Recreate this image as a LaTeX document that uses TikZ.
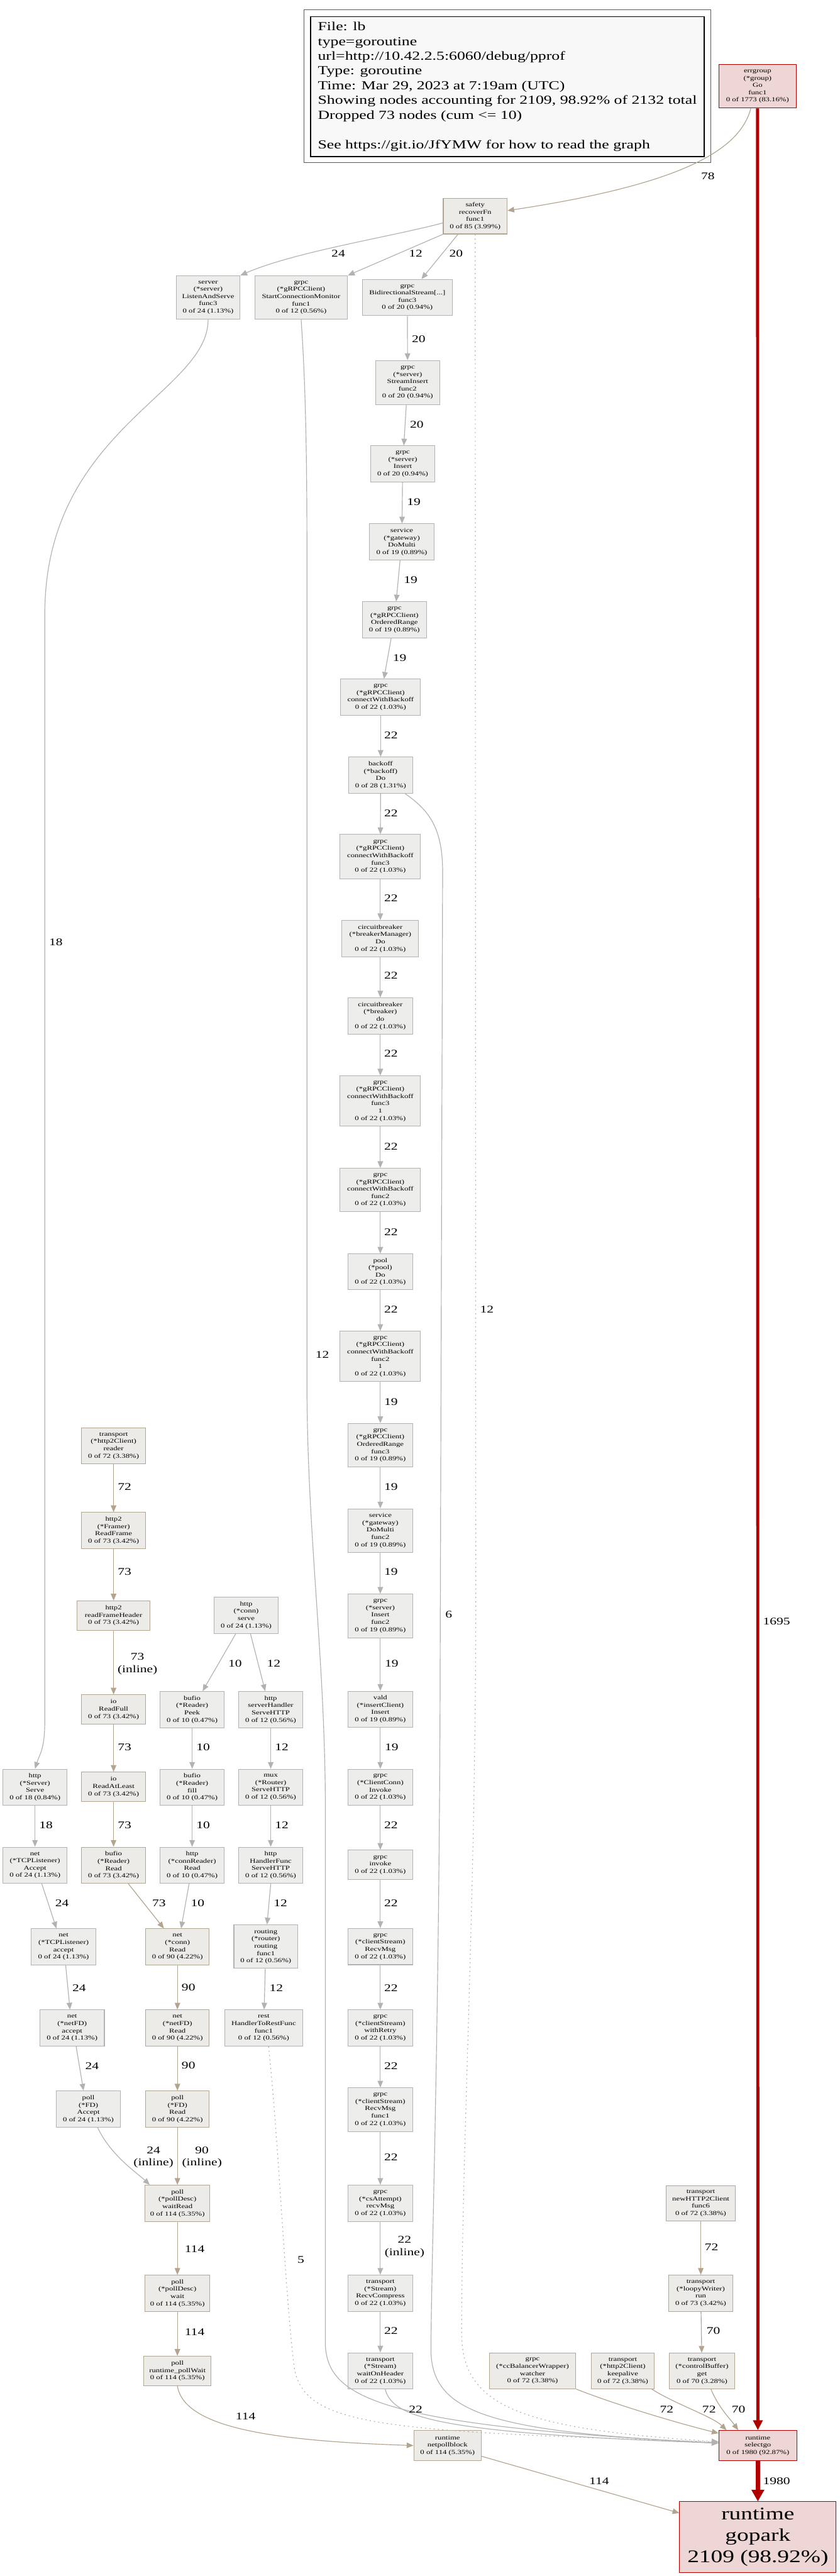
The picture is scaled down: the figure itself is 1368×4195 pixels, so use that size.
\documentclass[tikz,border=0pt]{standalone}
\usepackage{fontspec}
\newfontfamily\gvfont[FakeStretch=1.32]{Liberation Serif}
\usetikzlibrary{arrows.meta}
\newcommand{\gvnodefont}{\gvfont\fontsize{9.9}{11.9}\selectfont}
\newcommand{\gvlabfont}{\gvfont\fontsize{16.7}{20}\selectfont}
\newcommand{\gvlegfont}{\gvfont\fontsize{20}{24}\selectfont}
\newcommand{\gvbigfont}{\gvfont\fontsize{29}{35}\selectfont}
\definecolor{gfill}{HTML}{EDEDEC}
\definecolor{gdraw}{HTML}{B2B2B1}
\definecolor{tfill}{HTML}{EDEBE8}
\definecolor{tdraw}{HTML}{B2A793}
\definecolor{rfill}{HTML}{EDD6D5}
\definecolor{rdraw}{HTML}{B20000}
\definecolor{gedge}{HTML}{B2B2B1}
\definecolor{tedge}{HTML}{B2A48F}
\definecolor{legfill}{HTML}{F8F8F8}
\begin{document}
\begin{tikzpicture}[x=1pt,y=-1pt,
  box/.style={draw,line width=1.1pt,inner sep=0pt,align=center,font=\gvnodefont},
  gbox/.style={box,draw=gdraw,fill=gfill},
  tbox/.style={box,draw=tdraw,fill=tfill},
  rbox/.style={box,draw=rdraw,fill=rfill},
  sz/.style 2 args={minimum width=#1pt,minimum height=#2pt},
  ge/.style={draw=gedge,line width=1.2pt,-{Triangle[length=11pt,width=9pt]}},
  te/.style={ge,draw=tedge},
  gdot/.style={ge,dash pattern=on 2pt off 5pt},
  re/.style={draw=rdraw,line width=5pt,-{Triangle[length=16pt,width=15pt]}},
  retwo/.style={draw=rdraw,line width=6.5pt,-{Triangle[length=19pt,width=20pt]}},
  elab/.style={font=\gvlabfont,align=center,inner sep=0pt},
]
\fill[white] (0,0) rectangle (1368,4195);
\useasboundingbox (0,0) rectangle (1368,4195);

% legend
\node[draw=black!65,line width=1.5pt,fill=white,minimum width=663pt,minimum height=249pt,inner sep=0pt] (legendout) at (826.5,140.5) {};
\node[draw=black,fill=legfill,line width=1.2pt,minimum width=641pt,minimum height=228pt,inner sep=0pt,align=left,font=\gvlegfont] (legend) at (826.5,141)
{File: lb\\type=goroutine\\url=http://10.42.2.5:6060/debug/pprof\\Type: goroutine\\Time: Mar 29, 2023 at 7:19am (UTC)\\Showing nodes accounting for 2109, 98.92\% of 2132 total\\Dropped 73 nodes (cum <= 10)\\[24pt]See https://git.io/JfYMW for how to read the graph};

% top nodes
\node[rbox,sz={126}{71}] (errgroup) at (1234,140.5) {errgroup\\(*group)\\Go\\func1\\0 of 1773 (83.16\%)};
\node[tbox,sz={104}{58}] (safety) at (774,352) {safety\\recoverFn\\func1\\0 of 85 (3.99\%)};
\node[gbox,sz={104}{71}] (server) at (339,484.5) {server\\(*server)\\ListenAndServe\\func3\\0 of 24 (1.13\%)};
\node[gbox,sz={151}{71}] (scm) at (490.5,484.5) {grpc\\(*gRPCClient)\\StartConnectionMonitor\\func1\\0 of 12 (0.56\%)};
\node[gbox,sz={147}{59}] (bidi) at (663.5,484.5) {grpc\\BidirectionalStream[...]\\func3\\0 of 20 (0.94\%)};
% center column
\node[gbox,sz={104}{72}] (streamins) at (664,623) {grpc\\(*server)\\StreamInsert\\func2\\0 of 20 (0.94\%)};
\node[gbox,sz={104}{59}] (insert) at (656,755.5) {grpc\\(*server)\\Insert\\0 of 20 (0.94\%)};
\node[gbox,sz={105}{59}] (domulti) at (654.5,882.5) {service\\(*gateway)\\DoMulti\\0 of 19 (0.89\%)};
\node[gbox,sz={105}{59}] (ordrange) at (642.5,1009.5) {grpc\\(*gRPCClient)\\OrderedRange\\0 of 19 (0.89\%)};
\node[gbox,sz={130}{59}] (cwb) at (620,1135.5) {grpc\\(*gRPCClient)\\connectWithBackoff\\0 of 22 (1.03\%)};
\node[gbox,sz={104}{59}] (backoff) at (620,1262.5) {backoff\\(*backoff)\\Do\\0 of 28 (1.31\%)};
\node[gbox,sz={131}{72}] (cwbf3) at (619.5,1395) {grpc\\(*gRPCClient)\\connectWithBackoff\\func3\\0 of 22 (1.03\%)};
\node[gbox,sz={125}{59}] (cbmgr) at (619.5,1528.5) {circuitbreaker\\(*breakerManager)\\Do\\0 of 22 (1.03\%)};
\node[gbox,sz={105}{59}] (cbdo) at (619.5,1654.5) {circuitbreaker\\(*breaker)\\do\\0 of 22 (1.03\%)};
\node[gbox,sz={131}{82}] (cwbf31) at (619.5,1793) {grpc\\(*gRPCClient)\\connectWithBackoff\\func3\\1\\0 of 22 (1.03\%)};
\node[gbox,sz={131}{71}] (cwbf2) at (619.5,1938) {grpc\\(*gRPCClient)\\connectWithBackoff\\func2\\0 of 22 (1.03\%)};
\node[gbox,sz={105}{58}] (pool) at (619.5,2071) {pool\\(*pool)\\Do\\0 of 22 (1.03\%)};
\node[gbox,sz={131}{82}] (cwbf21) at (619.5,2209) {grpc\\(*gRPCClient)\\connectWithBackoff\\func2\\1\\0 of 22 (1.03\%)};
\node[gbox,sz={105}{71}] (ordrangef3) at (619.5,2353.5) {grpc\\(*gRPCClient)\\OrderedRange\\func3\\0 of 19 (0.89\%)};
\node[gbox,sz={105}{71}] (domultif2) at (619.5,2492.5) {service\\(*gateway)\\DoMulti\\func2\\0 of 19 (0.89\%)};
\node[gbox,sz={105}{71}] (insertf2) at (619.5,2631.5) {grpc\\(*server)\\Insert\\func2\\0 of 19 (0.89\%)};
\node[gbox,sz={105}{59}] (vald) at (619.5,2783.5) {vald\\(*insertClient)\\Insert\\0 of 19 (0.89\%)};
\node[gbox,sz={105}{59}] (invoke) at (619.5,2910.5) {grpc\\(*ClientConn)\\Invoke\\0 of 22 (1.03\%)};
\node[gbox,sz={105}{48}] (invk) at (619.5,3037) {grpc\\invoke\\0 of 22 (1.03\%)};
\node[gbox,sz={105}{59}] (recvmsg) at (619.5,3170) {grpc\\(*clientStream)\\RecvMsg\\0 of 22 (1.03\%)};
\node[gbox,sz={105}{59}] (withretry) at (619.5,3302.5) {grpc\\(*clientStream)\\withRetry\\0 of 22 (1.03\%)};
\node[gbox,sz={105}{71}] (recvmsgf1) at (619.5,3435.5) {grpc\\(*clientStream)\\RecvMsg\\func1\\0 of 22 (1.03\%)};
\node[gbox,sz={105}{59}] (csattempt) at (619.5,3588) {grpc\\(*csAttempt)\\recvMsg\\0 of 22 (1.03\%)};
\node[gbox,sz={105}{59}] (recvcomp) at (619.5,3734.5) {transport\\(*Stream)\\RecvCompress\\0 of 22 (1.03\%)};
\node[gbox,sz={105}{59}] (waitonh) at (619.5,3861) {transport\\(*Stream)\\waitOnHeader\\0 of 22 (1.03\%)};
% left
\node[tbox,sz={104}{59}] (h2reader) at (185,2354.5) {transport\\(*http2Client)\\reader\\0 of 72 (3.38\%)};
\node[tbox,sz={104}{59}] (readframe) at (185,2492.5) {http2\\(*Framer)\\ReadFrame\\0 of 73 (3.42\%)};
\node[tbox,sz={119}{48}] (rfh) at (185,2631) {http2\\readFrameHeader\\0 of 73 (3.42\%)};
\node[tbox,sz={104}{48}] (readfull) at (185,2784) {io\\ReadFull\\0 of 73 (3.42\%)};
\node[tbox,sz={104}{48}] (readatleast) at (185,2910) {io\\ReadAtLeast\\0 of 73 (3.42\%)};
\node[tbox,sz={104}{59}] (bufread) at (185,3037.5) {bufio\\(*Reader)\\Read\\0 of 73 (3.42\%)};
\node[gbox,sz={104}{59}] (httpconn) at (401,2630.5) {http\\(*conn)\\serve\\0 of 24 (1.13\%)};
\node[gbox,sz={104}{59}] (peek) at (313,2784) {bufio\\(*Reader)\\Peek\\0 of 10 (0.47\%)};
\node[gbox,sz={104}{59}] (shttp) at (441,2784) {http\\serverHandler\\ServeHTTP\\0 of 12 (0.56\%)};
\node[gbox,sz={104}{59}] (bfill) at (313,2910.5) {bufio\\(*Reader)\\fill\\0 of 10 (0.47\%)};
\node[gbox,sz={104}{59}] (mux) at (441,2910.5) {mux\\(*Router)\\ServeHTTP\\0 of 12 (0.56\%)};
\node[gbox,sz={104}{59}] (hserve) at (57,2910.5) {http\\(*Server)\\Serve\\0 of 18 (0.84\%)};
\node[gbox,sz={104}{59}] (tcpAccept) at (57,3037.5) {net\\(*TCPListener)\\Accept\\0 of 24 (1.13\%)};
\node[gbox,sz={104}{59}] (connreader) at (313,3037.5) {http\\(*connReader)\\Read\\0 of 10 (0.47\%)};
\node[gbox,sz={104}{59}] (hfunc) at (441,3037.5) {http\\HandlerFunc\\ServeHTTP\\0 of 12 (0.56\%)};
\node[gbox,sz={105}{59}] (tcpaccept) at (103.5,3170.5) {net\\(*TCPListener)\\accept\\0 of 24 (1.13\%)};
\node[tbox,sz={104}{59}] (connread) at (289,3170.5) {net\\(*conn)\\Read\\0 of 90 (4.22\%)};
\node[gbox,sz={104}{71}] (routing) at (433,3170) {routing\\(*router)\\routing\\func1\\0 of 12 (0.56\%)};
\node[gbox,sz={105}{59}] (netfdaccept) at (117.5,3302.5) {net\\(*netFD)\\accept\\0 of 24 (1.13\%)};
\node[tbox,sz={104}{59}] (netfdread) at (289,3302.5) {net\\(*netFD)\\Read\\0 of 90 (4.22\%)};
\node[gbox,sz={127}{59}] (rest) at (429.5,3302.5) {rest\\HandlerToRestFunc\\func1\\0 of 12 (0.56\%)};
\node[gbox,sz={104}{59}] (fdaccept) at (144,3434.5) {poll\\(*FD)\\Accept\\0 of 24 (1.13\%)};
\node[tbox,sz={104}{59}] (fdread) at (289,3434.5) {poll\\(*FD)\\Read\\0 of 90 (4.22\%)};
\node[tbox,sz={106}{59}] (waitread) at (289,3588) {poll\\(*pollDesc)\\waitRead\\0 of 114 (5.35\%)};
\node[tbox,sz={106}{59}] (pwait) at (289,3734.5) {poll\\(*pollDesc)\\wait\\0 of 114 (5.35\%)};
\node[tbox,sz={110}{48}] (pollwait) at (289,3861) {poll\\runtime\_pollWait\\0 of 114 (5.35\%)};
\node[tbox,sz={110}{49}] (netpollblock) at (729,3982.5) {runtime\\netpollblock\\0 of 114 (5.35\%)};
\node[rbox,sz={127}{49}] (selectgo) at (1234.5,3982.5) {runtime\\selectgo\\0 of 1980 (92.87\%)};
\node[rbox,sz={255}{115},font=\gvbigfont] (gopark) at (1234.5,4131.5) {runtime\\gopark\\2109 (98.92\%)};
% right
\node[tbox,sz={113}{58}] (h2cfunc6) at (1141.5,3588) {transport\\newHTTP2Client\\func6\\0 of 72 (3.38\%)};
\node[tbox,sz={105}{59}] (loopy) at (1141.5,3734.5) {transport\\(*loopyWriter)\\run\\0 of 73 (3.42\%)};
\node[tbox,sz={107}{58}] (ctrlbuf) at (1143.5,3861) {transport\\(*controlBuffer)\\get\\0 of 70 (3.28\%)};
\node[tbox,sz={141}{58}] (ccbw) at (867.5,3861) {grpc\\(*ccBalancerWrapper)\\watcher\\0 of 72 (3.38\%)};
\node[tbox,sz={103}{58}] (keepalive) at (1014.5,3861) {transport\\(*http2Client)\\keepalive\\0 of 72 (3.38\%)};

% edges: top
\draw[te] ([xshift=-11pt]errgroup.south) .. controls (1205,245) and (1110,300) .. ([yshift=9pt]safety.east);
\draw[re] (errgroup.south) -- (selectgo.north);
\draw[ge] ([yshift=-11pt]safety.west) .. controls (640,385) and (480,410) .. (server.north east);
\draw[ge] (safety.south west) -- (scm.north east);
\draw[ge] ([xshift=-28pt]safety.south) -- ([xshift=23pt]bidi.north);
\draw[gdot] (safety.south) -- (775,2600) .. controls (775,3100) and (752,3500) .. (752,3800) .. controls (752,3920) and (850,3955) .. ([yshift=6pt]selectgo.west);
\draw[ge] (scm.south) .. controls (496,600) and (500,700) .. (500,900) -- (500,2250) .. controls (500,2500) and (530,2700) .. (530,2950) -- (530,3820) .. controls (535,3905) and (620,3950) .. ([yshift=4pt]selectgo.west);
\draw[ge] ([xshift=40pt]backoff.south) .. controls (700,1320) and (721,1350) .. (721,1420) -- (717,2700) .. controls (716,3300) and (702,3700) .. (702,3830) .. controls (705,3930) and (800,3960) .. ([yshift=4pt]selectgo.west);
\draw[ge] ([xshift=8pt]waitonh.south) .. controls (640,3935) and (700,3962) .. ([yshift=4pt]selectgo.west);
\draw[gdot] ([xshift=8pt]rest.south) .. controls (455,3500) and (465,3750) .. (480,3860) .. controls (500,3950) and (620,3960) .. ([yshift=6pt]selectgo.west);
\draw[ge] (server.south) .. controls (339,640) and (73,700) .. (73,1000) -- (73,2800) .. controls (73,2850) and (65,2855) .. (hserve.north);
% center column
\foreach \a/\b in {bidi/streamins,streamins/insert,insert/domulti,domulti/ordrange,ordrange/cwb,cwb/backoff,backoff/cwbf3,cwbf3/cbmgr,cbmgr/cbdo,cbdo/cwbf31,cwbf31/cwbf2,cwbf2/pool,pool/cwbf21,cwbf21/ordrangef3,ordrangef3/domultif2,domultif2/insertf2,insertf2/vald,vald/invoke,invoke/invk,invk/recvmsg,recvmsg/withretry,withretry/recvmsgf1,recvmsgf1/csattempt,csattempt/recvcomp,recvcomp/waitonh,peek/bfill,bfill/connreader,shttp/mux,mux/hfunc,routing/rest,hserve/tcpAccept}
  \draw[ge] (\a) -- (\b);
\foreach \a/\b in {h2reader/readframe,readframe/rfh,rfh/readfull,readfull/readatleast,readatleast/bufread,connread/netfdread,netfdread/fdread,fdread/waitread,waitread/pwait,pwait/pollwait,h2cfunc6/loopy,loopy/ctrlbuf}
  \draw[te] (\a) -- (\b);
% left custom
\draw[te] ([xshift=24pt]bufread.south) -- ([xshift=-22pt]connread.north);
\draw[ge] ([xshift=-5pt]connreader.south) -- ([xshift=6pt]connread.north);
\draw[ge] ([xshift=-17pt]httpconn.south) -- ([xshift=17pt]peek.north);
\draw[ge] ([xshift=7pt]httpconn.south) -- ([xshift=-9pt]shttp.north);
\draw[ge] (hfunc.south) -- ([xshift=2pt]routing.north);
\draw[ge] ([xshift=11pt]tcpAccept.south) -- ([xshift=-11.5pt]tcpaccept.north);
\draw[ge] ([xshift=3.5pt]tcpaccept.south) -- ([xshift=-3.5pt]netfdaccept.north);
\draw[ge] ([xshift=6.5pt]netfdaccept.south) -- ([xshift=-8pt]fdaccept.north);
\draw[ge] ([xshift=15pt]fdaccept.south) .. controls (180,3510) and (225,3540) .. ([xshift=-45pt]waitread.north);
\draw[te] (pollwait.south) .. controls (300,3955) and (450,3975) .. (netpollblock.west);
\draw[te] ([yshift=-17.5pt]netpollblock.east) -- ([yshift=-19pt]gopark.north west);
\draw[retwo] (selectgo.south) -- (gopark.north);
% right custom
\draw[te] (ccbw.south east) .. controls (1000,3915) and (1100,3945) .. ([yshift=20pt]selectgo.west);
\draw[te] ([xshift=-5pt]keepalive.south east) .. controls (1100,3915) and (1160,3935) .. ([xshift=13pt]selectgo.north west);
\draw[te] ([xshift=14.5pt]ctrlbuf.south) .. controls (1170,3920) and (1190,3940) .. ([xshift=-32pt]selectgo.north);

% edge labels
\foreach \t/\x/\y [count=\i] in {78/1153/287,1695/1265/2640,24/551/413,12/677/413,20/743/413,12/793/2132,12/525/2206,18/91/1534,
 20/682/552,20/679/691,19/674/817,19/669/944,19/651/1071,22/637/1197,22/637/1324,22/637/1463,22/637/1589,22/637/1716,22/637/1867,
 22/637/2006,22/637/2132,19/637/2283,19/637/2421,19/637/2560,6/731/2629,19/638/2709,19/638/2845,22/637/2972,22/637/3099,22/637/3237,
 22/637/3364,22/637/3513,22/637/3796,22/677/3924,
 72/203/2421,73/203/2560,10/383/2709,12/446/2709,10/331/2845,12/459/2845,73/203/2845,18/75/2972,73/203/2972,10/331/2972,12/459/2972,
 24/101/3099,73/259/3099,10/322/3099,12/457/3099,24/129/3237,90/307/3237,12/450/3237,24/150/3364,90/307/3364,
 114/317/3662,114/317/3798,114/400/3935,5/490/3680,
 72/1159/3659,70/1162/3796,72/1086/3924,72/1155/3924,70/1203/3924,114/976/4040,1980/1265/4040}
  \node[elab] (lab\i) at (\x,\y) {\t};
\node[elab] (labinlA) at (659,3659) {22\\(inline)};
\node[elab] (labinlB) at (224,2710) {73\\(inline)};
\node[elab] (labinlC) at (250,3513) {24\\(inline)};
\node[elab] (labinlD) at (329,3513) {90\\(inline)};
\end{tikzpicture}
\end{document}
